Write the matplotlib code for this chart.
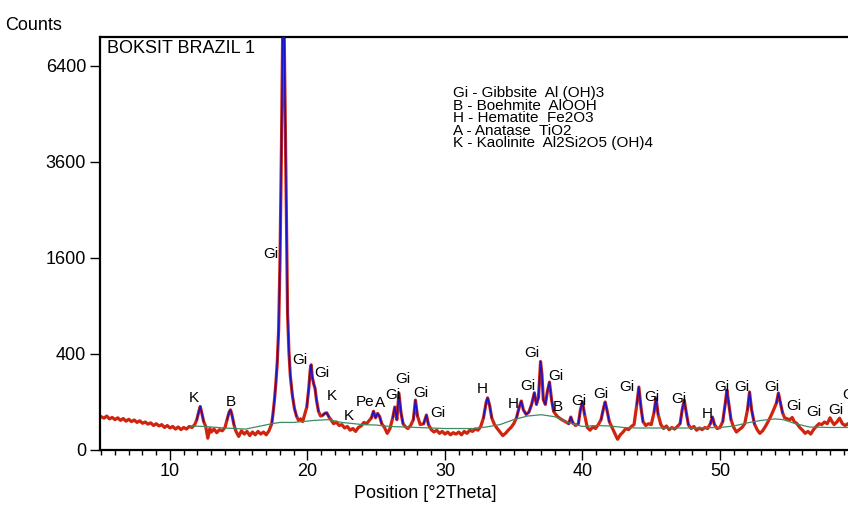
"""
XRD pattern of BOKSIT BRAZIL 1 (counts on a square-root axis).
"""

import numpy as np
import matplotlib
matplotlib.use("Agg")
import matplotlib.pyplot as plt

# ── data ─────────────────────────────────────────────────────────────────────
# observed scan: (2theta, counts)
OBS = [
    (5.0, 48), (5.2, 44), (5.4, 50), (5.6, 42), (5.8, 46), (6.0, 40), (6.2, 45),
    (6.4, 38), (6.6, 43), (6.8, 36), (7.0, 41), (7.2, 35), (7.4, 39), (7.6, 33),
    (7.8, 37), (8.0, 31), (8.2, 34), (8.4, 29), (8.6, 32), (8.8, 26), (9.0, 30),
    (9.2, 25), (9.4, 28), (9.6, 22), (9.8, 26), (10.0, 21), (10.2, 24), (10.4, 19),
    (10.6, 23), (10.8, 18), (11.0, 22), (11.2, 19), (11.4, 24), (11.6, 22),
    (11.8, 28), (11.95, 40), (12.1, 65), (12.2, 82), (12.3, 62), (12.45, 35),
    (12.6, 24), (12.75, 6), (12.9, 20), (13.0, 14), (13.2, 19), (13.4, 13),
    (13.6, 18), (13.8, 16), (14.0, 22), (14.15, 40), (14.3, 62), (14.4, 70),
    (14.5, 55), (14.65, 28), (14.8, 15), (15.0, 8), (15.2, 16), (15.4, 11),
    (15.6, 15), (15.8, 9), (16.0, 14), (16.2, 10), (16.4, 15), (16.6, 11),
    (16.8, 14), (17.0, 10), (17.2, 16), (17.4, 30), (17.5, 60), (17.6, 110),
    (17.7, 195), (17.8, 330), (17.9, 620), (18.0, 1550), (18.1, 3800),
    (18.2, 7800), (18.3, 7800), (18.38, 4900), (18.45, 2800), (18.55, 820),
    (18.65, 420), (18.75, 240), (18.9, 130), (19.05, 75), (19.2, 50), (19.35, 38),
    (19.5, 42), (19.65, 35), (19.8, 55), (19.95, 80), (20.1, 170), (20.2, 280),
    (20.27, 315), (20.35, 230), (20.45, 190), (20.55, 165), (20.65, 110),
    (20.8, 65), (20.95, 50), (21.1, 52), (21.25, 58), (21.4, 60), (21.55, 48),
    (21.7, 40), (21.9, 30), (22.1, 34), (22.3, 26), (22.5, 28), (22.7, 21),
    (22.9, 24), (23.1, 17), (23.3, 20), (23.5, 15), (23.7, 22), (23.9, 25),
    (24.1, 33), (24.3, 30), (24.5, 38), (24.65, 45), (24.8, 65), (24.95, 45),
    (25.1, 58), (25.25, 48), (25.4, 30), (25.6, 22), (25.8, 12), (26.0, 20),
    (26.2, 45), (26.35, 80), (26.5, 40), (26.65, 140), (26.8, 60), (26.95, 30),
    (27.1, 24), (27.3, 20), (27.5, 26), (27.7, 40), (27.85, 108), (28.0, 50),
    (28.2, 28), (28.45, 30), (28.65, 53), (28.8, 28), (29.0, 18), (29.2, 14),
    (29.4, 17), (29.6, 12), (29.8, 15), (30.0, 11), (30.2, 14), (30.4, 10),
    (30.6, 13), (30.8, 11), (31.0, 14), (31.2, 10), (31.4, 15), (31.6, 12),
    (31.8, 17), (32.0, 15), (32.2, 19), (32.4, 17), (32.6, 24), (32.8, 45),
    (33.0, 100), (33.1, 118), (33.25, 85), (33.4, 45), (33.6, 28), (33.8, 20),
    (34.0, 14), (34.2, 9), (34.4, 12), (34.6, 17), (34.8, 22), (35.0, 30),
    (35.2, 45), (35.4, 80), (35.55, 104), (35.7, 70), (35.9, 55), (36.1, 62),
    (36.3, 90), (36.5, 142), (36.65, 90), (36.8, 120), (36.95, 340), (37.05, 250),
    (37.15, 110), (37.3, 90), (37.45, 150), (37.6, 200), (37.75, 110), (37.9, 65),
    (38.05, 55), (38.2, 48), (38.4, 42), (38.6, 38), (38.8, 34), (39.0, 30),
    (39.15, 47), (39.3, 32), (39.5, 26), (39.7, 30), (39.85, 70), (40.0, 100),
    (40.15, 55), (40.35, 22), (40.55, 17), (40.75, 23), (40.95, 20), (41.15, 28),
    (41.35, 40), (41.55, 80), (41.65, 100), (41.8, 65), (41.95, 35), (42.15, 22),
    (42.35, 12), (42.55, 5), (42.75, 10), (42.95, 14), (43.15, 20), (43.35, 18),
    (43.55, 24), (43.75, 28), (43.95, 90), (44.1, 172), (44.25, 80), (44.4, 35),
    (44.6, 26), (44.8, 30), (45.0, 28), (45.2, 60), (45.35, 117), (45.5, 55),
    (45.7, 28), (45.9, 20), (46.1, 25), (46.3, 18), (46.5, 22), (46.7, 19),
    (46.9, 24), (47.1, 30), (47.25, 70), (47.4, 108), (47.55, 60), (47.7, 28),
    (47.9, 20), (48.1, 24), (48.3, 17), (48.5, 21), (48.7, 18), (48.9, 22),
    (49.1, 20), (49.3, 30), (49.45, 47), (49.6, 28), (49.8, 20), (50.0, 22),
    (50.2, 35), (50.4, 100), (50.5, 156), (50.65, 90), (50.8, 40), (51.0, 22),
    (51.2, 14), (51.4, 18), (51.6, 22), (51.8, 30), (52.0, 70), (52.15, 146),
    (52.3, 70), (52.5, 30), (52.7, 18), (52.9, 12), (53.1, 16), (53.3, 24),
    (53.5, 35), (53.7, 50), (53.9, 70), (54.1, 95), (54.25, 141), (54.4, 95),
    (54.55, 60), (54.7, 45), (54.9, 42), (55.1, 40), (55.25, 46), (55.4, 35),
    (55.6, 30), (55.8, 22), (56.0, 17), (56.2, 12), (56.4, 15), (56.6, 11),
    (56.8, 18), (57.0, 24), (57.2, 30), (57.4, 28), (57.6, 34), (57.8, 30),
    (58.0, 45), (58.15, 35), (58.3, 28), (58.5, 34), (58.7, 44), (58.9, 30),
    (59.1, 26), (59.3, 30), (59.5, 27),
]

# fitted background (green)
BG_X = [11.5, 12.5, 14.0, 15.5, 17.4, 18.0, 19.0, 19.6, 20.5, 21.5, 22.5, 24.0,
        25.0, 26.0, 28.0, 30.0, 32.0, 33.0, 34.0, 35.0, 36.0, 37.0, 38.0, 39.0,
        40.0, 41.0, 42.0, 43.0, 44.0, 46.0, 48.0, 50.0, 51.0, 52.0, 53.0, 54.0,
        54.6, 55.5, 56.5, 58.0, 59.5]
BG_Y = [25, 24, 21, 19, 30, 33, 33, 35, 38, 40, 33, 28,
        27, 24, 22, 20, 20, 23, 28, 40, 50, 54, 48, 32,
        24, 26, 25, 22, 21, 21, 21, 22, 25, 32, 38, 42,
        40, 30, 23, 22, 22]

# 2theta ranges where the calculated profile (blue) is drawn over the scan
FIT_WINDOWS = [(11.9, 12.5), (14.1, 14.7), (17.4, 19.3), (19.9, 20.9),
               (21.1, 21.6), (24.6, 25.5), (26.1, 27.0), (27.6, 28.1),
               (28.4, 28.9), (32.8, 33.5), (35.2, 37.9), (39.0, 39.4),
               (39.7, 40.3), (41.3, 42.0), (43.8, 44.4), (45.1, 45.6),
               (47.1, 47.7), (49.2, 49.7), (50.2, 50.9), (51.9, 52.5),
               (54.0, 54.6)]

# peak labels: (text, 2theta, counts) = centre of the label
PEAK_LABELS = [
    ("K", 11.75, 117), ("B", 14.44, 100), ("Gi", 17.35, 1667),
    ("Gi", 19.45, 352), ("Gi", 21.05, 257), ("K", 21.8, 127), ("K", 23.0, 50),
    ("Pe", 24.2, 100), ("A", 25.3, 96), ("Gi", 26.2, 131), ("Gi", 26.9, 219),
    ("Gi", 28.25, 141), ("Gi", 29.5, 59), ("H", 32.7, 161), ("H", 35.0, 92),
    ("Gi", 36.0, 178), ("Gi", 36.3, 408), ("Gi", 38.05, 238), ("B", 38.2, 80),
    ("Gi", 39.7, 104), ("Gi", 41.3, 136), ("Gi", 43.2, 172), ("Gi", 45.05, 122),
    ("Gi", 47.0, 113), ("H", 49.1, 56), ("Gi", 50.1, 172), ("Gi", 51.6, 172),
    ("Gi", 53.8, 170), ("Gi", 55.4, 84), ("Gi", 56.8, 63), ("Gi", 58.4, 69),
    ("G", 59.3, 131),
]

PHASES = [
    "Gi - Gibbsite  Al (OH)3",
    "B - Boehmite  AlOOH",
    "H - Hematite  Fe2O3",
    "A - Anatase  TiO2",
    "K - Kaolinite  Al2Si2O5 (OH)4",
]

Y_TICKS = [0, 400, 1600, 3600, 6400]
X_TICKS = [10, 20, 30, 40, 50]

plt.rcParams["font.family"] = ["Liberation Sans", "DejaVu Sans"]

obs = np.array(OBS, dtype=float)
obs_x, obs_y = obs[:, 0], obs[:, 1]

fit_mask = np.zeros_like(obs_x, dtype=bool)
for lo, hi in FIT_WINDOWS:
    fit_mask |= (obs_x >= lo) & (obs_x <= hi)
fit_y = np.where(fit_mask, obs_y, np.nan)

fig = plt.figure(figsize=(8.48, 5.05), dpi=100)
ax = fig.add_axes([100 / 848, 55 / 505, 748 / 848, 413 / 505])

ax.set_yscale("function",
              functions=(lambda y: np.sqrt(np.clip(y, 0, None)),
                         lambda y: np.asarray(y) ** 2))

ax.plot(obs_x, obs_y, color="#d0240e", lw=2.3, zorder=2)
ax.plot(obs_x, fit_y, color="#1a14c8", lw=1.1, zorder=3)
ax.plot(BG_X, BG_Y, color="#3f8a63", lw=0.9, zorder=4)

ax.set_xlim(4.91, 59.31)
ax.set_ylim(0, 7400)

ax.set_yticks(Y_TICKS)
ax.set_yticklabels([str(t) for t in Y_TICKS])
ax.set_xticks(X_TICKS)
ax.set_xticks(np.arange(5, 60, 1), minor=True)
ax.yaxis.set_minor_locator(matplotlib.ticker.NullLocator())
ax.tick_params(axis="both", which="major", direction="out", length=7,
               width=1.0, labelsize=13, colors="black")
ax.tick_params(axis="x", which="major", pad=2)
ax.tick_params(axis="y", which="major", pad=3)
ax.tick_params(axis="x", which="minor", direction="out", length=3.5, width=1.0)

for side in ("left", "bottom", "top"):
    ax.spines[side].set_linewidth(1.6)
ax.spines["right"].set_visible(False)

fig.text(425 / 848, 1 - 493 / 505, "Position [°2Theta]", fontsize=13,
         ha="center", va="center")

fig.text(0.006, 1 - 25 / 505, "Counts", fontsize=13, va="center", ha="left")
ax.text(0.009, 0.993, "BOKSIT BRAZIL 1", transform=ax.transAxes,
        fontsize=13, va="top", ha="left")

for txt, x, y in PEAK_LABELS:
    ax.text(x, y, txt, fontsize=11, ha="center", va="center", zorder=5,
            clip_on=False)

for i, line in enumerate(PHASES):
    fig.text(453 / 848, 1 - (93 + i * 12.6) / 505, line, fontsize=11,
             ha="left", va="center")

fig.savefig("out.png", dpi=100)
